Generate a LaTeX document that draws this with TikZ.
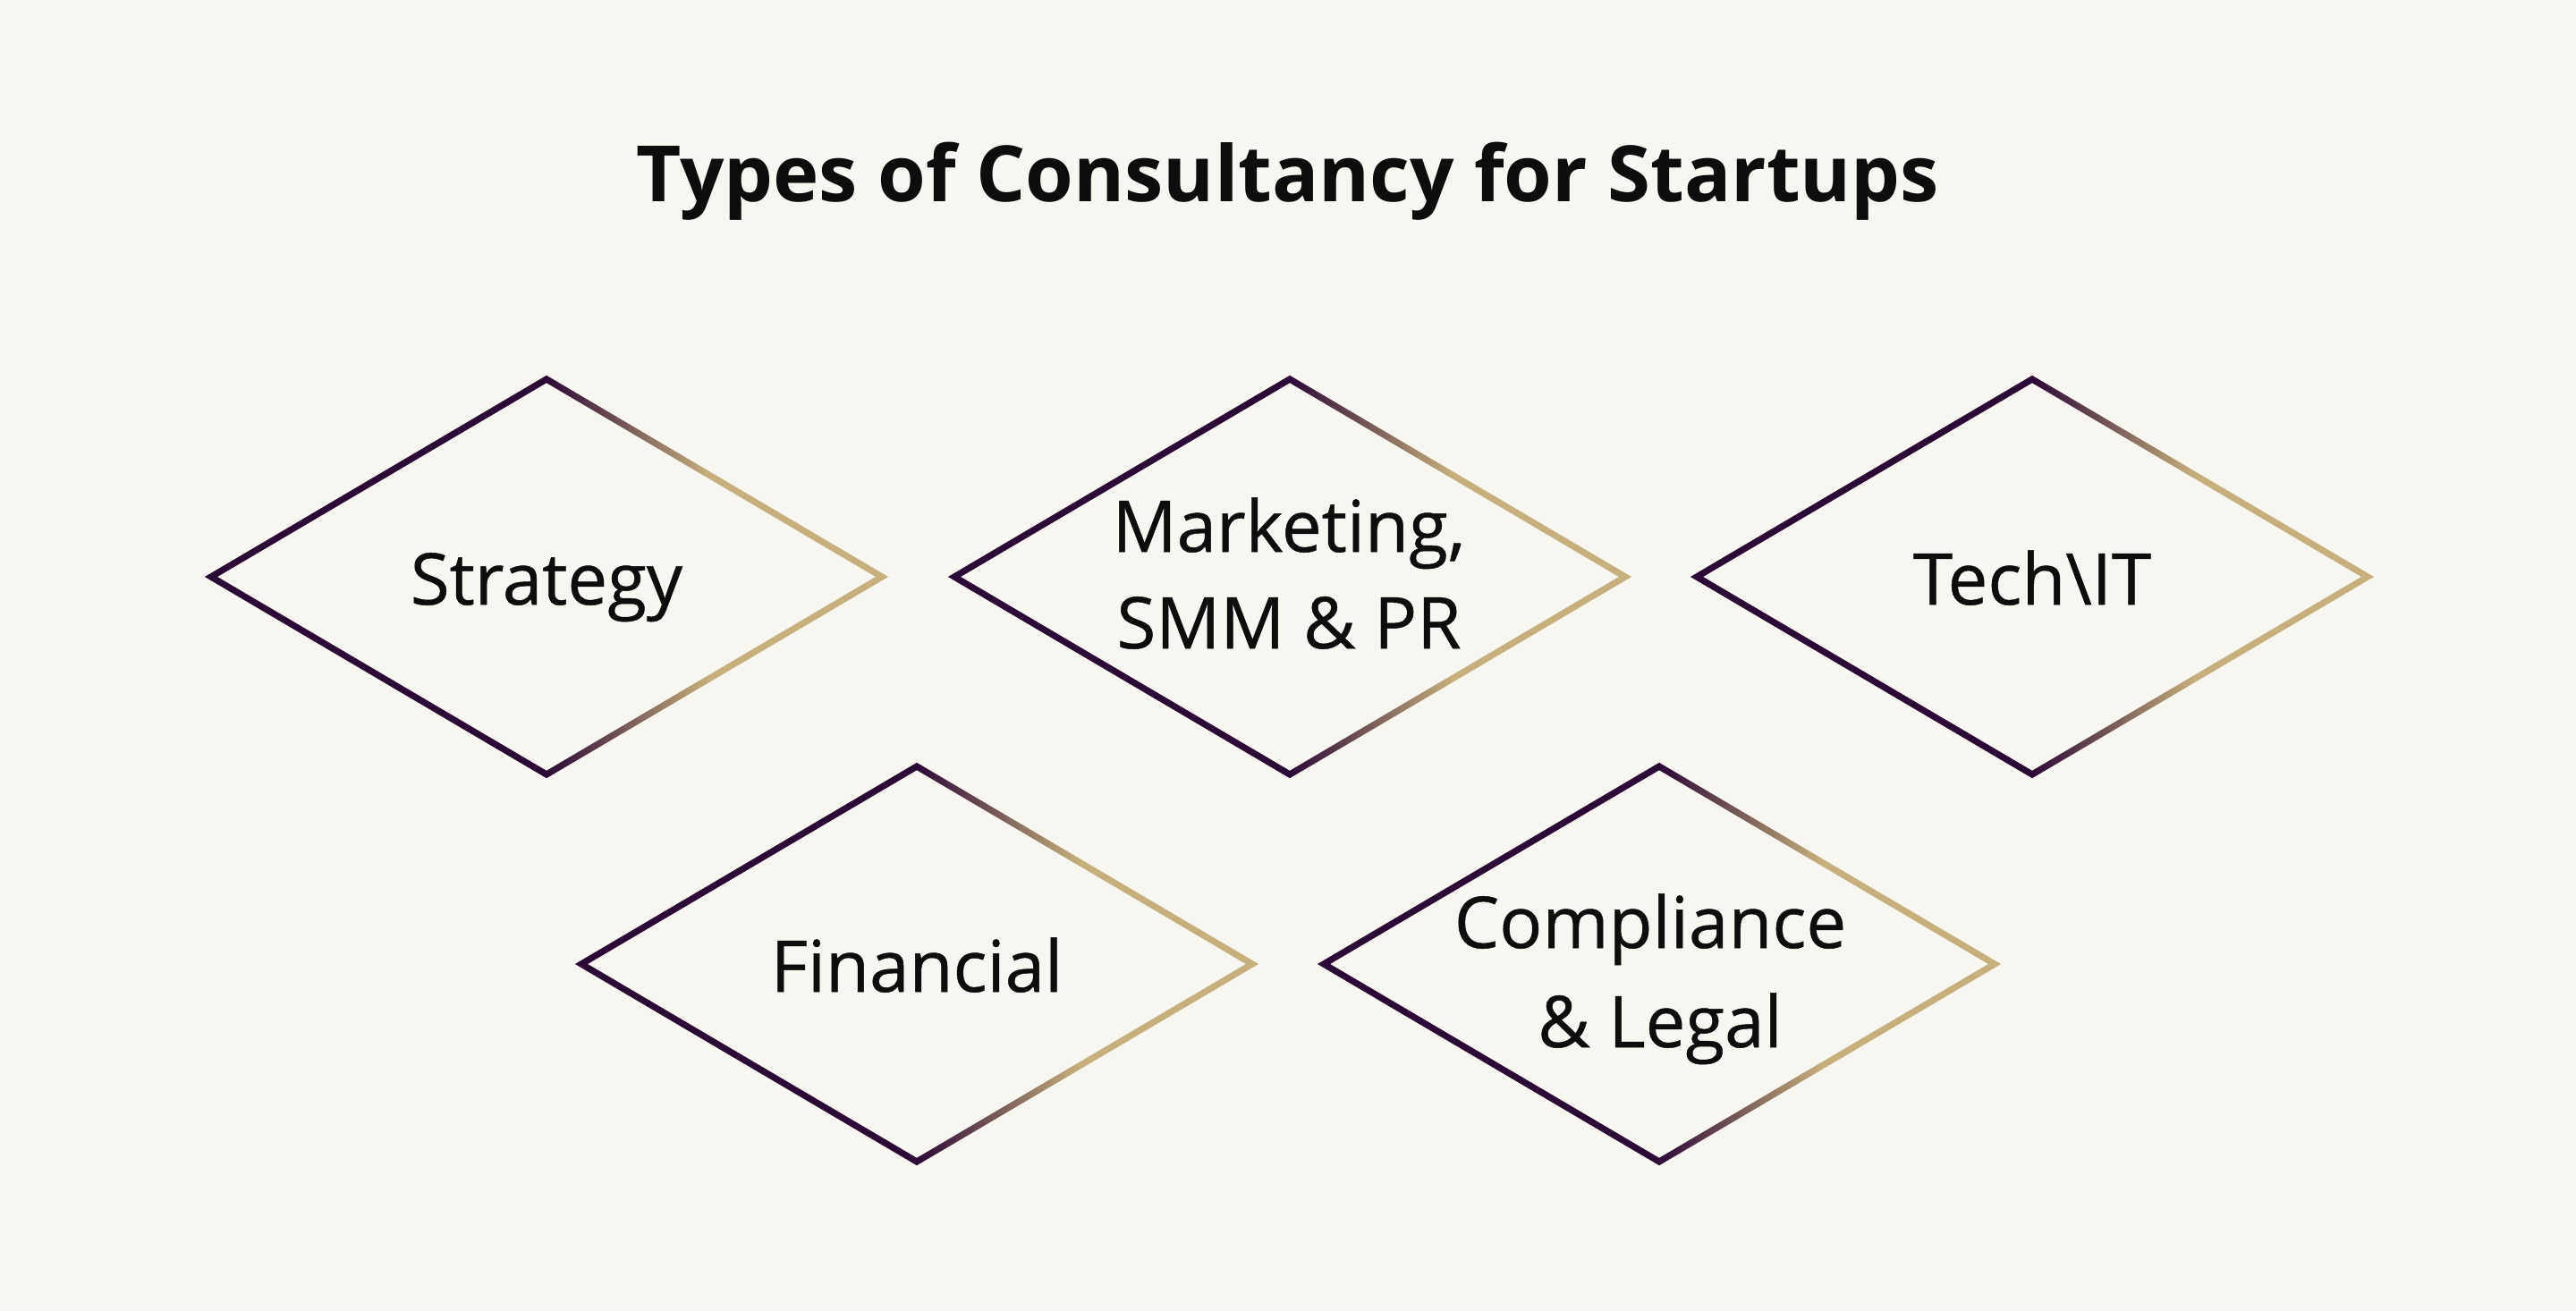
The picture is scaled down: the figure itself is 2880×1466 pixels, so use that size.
\documentclass[tikz,border=0pt]{standalone}
\usepackage{fontspec}
\setmainfont{Open Sans}
\newfontfamily\lblfont[FakeBold=0.6]{Open Sans}
\usetikzlibrary{shapes.geometric}
\definecolor{bg}{HTML}{F7F6F1}
\definecolor{dk}{HTML}{2C0A36}
\definecolor{tn}{HTML}{C6B17E}
\definecolor{ink}{HTML}{0D0D0D}
\pgfdeclarehorizontalshading{gstroke}{100bp}{color(0bp)=(dk); color(50bp)=(dk); color(62bp)=(tn); color(100bp)=(tn)}
\tikzset{
  dia/.style={shape=diamond, draw=none, inner sep=0pt, minimum width=7.5cm, minimum height=4.42cm},
  ring/.style={shading=gstroke, even odd rule},
  lbl/.style={anchor=base, inner sep=0pt, text=ink, font=\lblfont\fontsize{22.7pt}{27pt}\selectfont},
  ttl/.style={anchor=base, inner sep=0pt, text=ink, font=\fontsize{24.7pt}{30pt}\selectfont\bfseries}
}
\newcommand{\ringat}[1]{%
  \shade[ring] (#1.center) ++(-382.1,0) -- ++(382.1,-225.2) -- ++(382.1,225.2) -- ++(-382.1,225.2) -- cycle
               (#1.center) ++(-367.9,0) -- ++(367.9,-216.8) -- ++(367.9,216.8) -- ++(-367.9,216.8) -- cycle;}
\begin{document}
\begin{tikzpicture}[x=0.01cm, y=-0.01cm]
\fill[bg] (0,0) rectangle (2880,1466);
\useasboundingbox (0,0) rectangle (2880,1466);
\node[ttl] (title) at (1440,225) {Types of Consultancy for Startups};
% diamonds
\node[dia] (strat) at (611,645) {};
\node[dia] (mkt) at (1442,645) {};
\node[dia] (tech) at (2272,645) {};
\node[dia] (fin) at (1025,1078) {};
\node[dia] (comp) at (1855,1078) {};
\ringat{strat}
\ringat{mkt}
\ringat{tech}
\ringat{fin}
\ringat{comp}
% labels
\node[lbl] (strat-t) at (611,676) {Strategy};
\node[lbl] (mkt-t1) at (1441,617) {Marketing,};
\node[lbl] (mkt-t2) at (1441,725) {SMM \& PR};
\node[lbl] (tech-t) at (2272,676) {Tech\textbackslash IT};
\node[lbl] (fin-t) at (1025,1109) {Financial};
\node[lbl] (comp-t1) at (1845,1060) {Compliance};
\node[lbl] (comp-t2) at (1856,1171) {\& Legal};
\end{tikzpicture}
\end{document}
